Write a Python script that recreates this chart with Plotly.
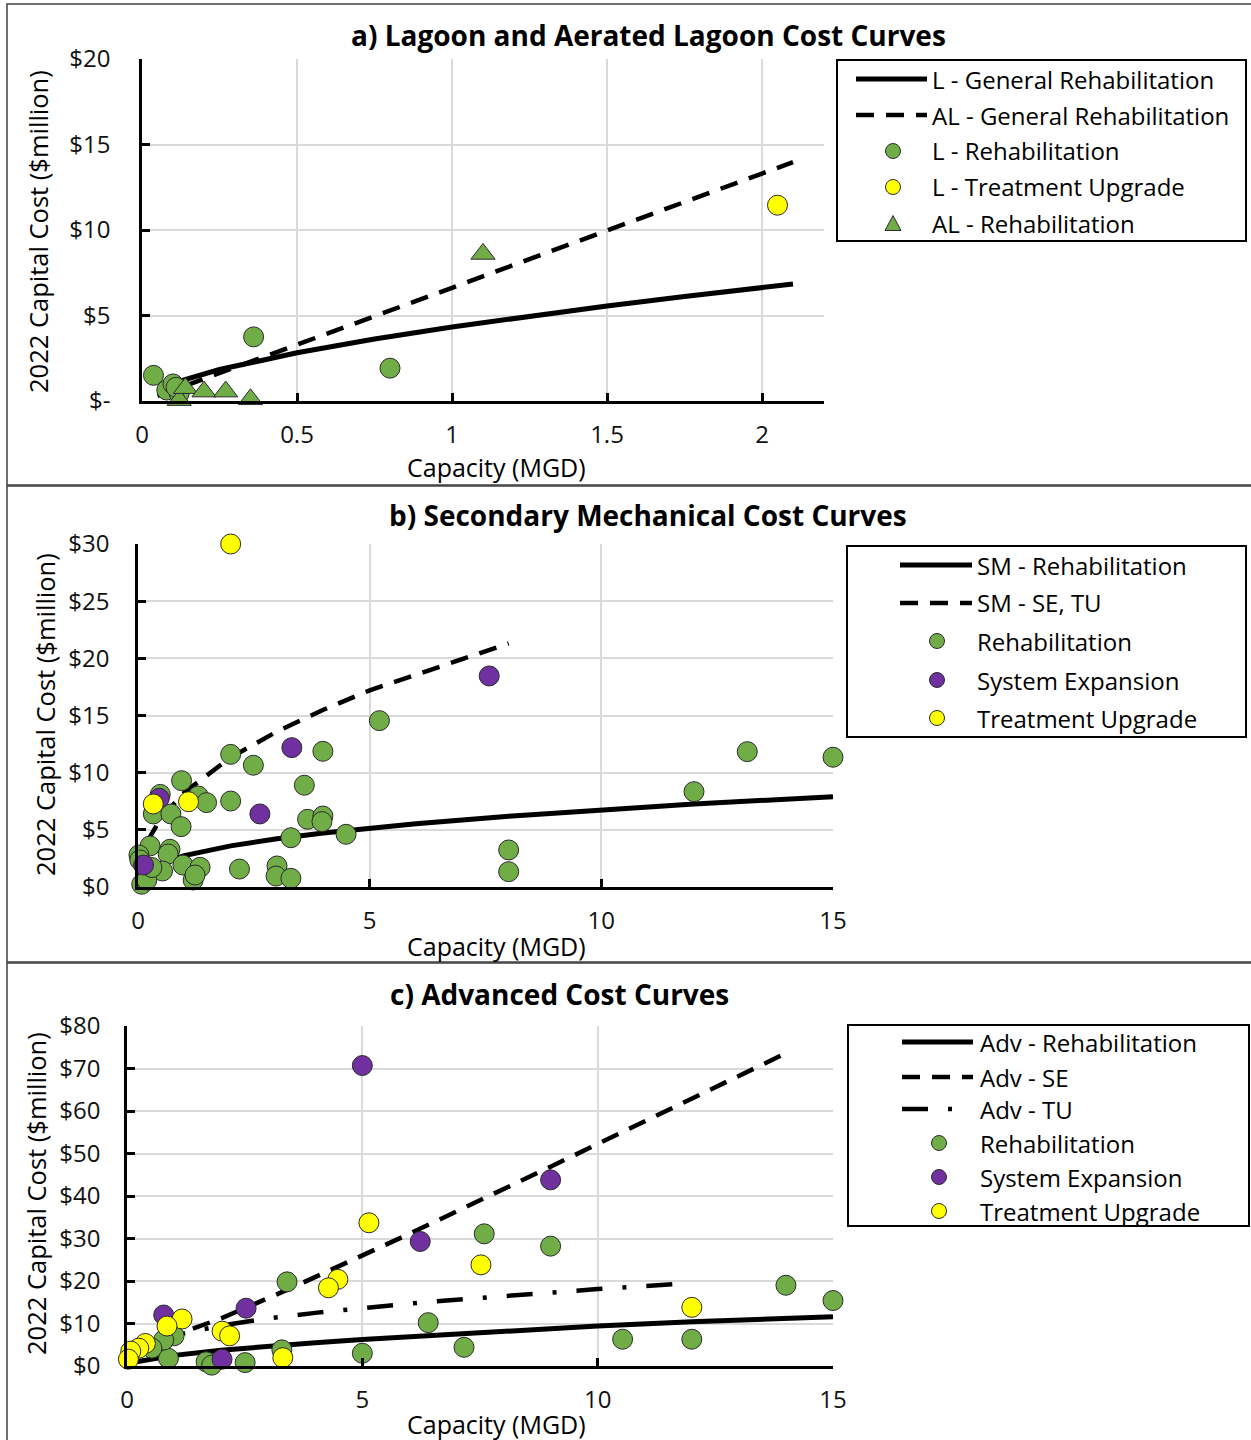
import plotly.graph_objects as go

W, H = 1251, 1440
FONT = "Open Sans"

GREEN = "#70AD47"
PURPLE = "#7030A0"
YELLOW = "#FFFF00"
EDGE = "#2b2b2b"
GRID = "#d9d9d9"

# ---------------- a) Lagoon and aerated lagoon ----------------
a_l_general_x = [0.1, 0.25, 0.5, 0.75, 1.0, 1.25, 1.5, 1.75, 2.0, 2.1]
a_l_general_y = [1.05, 1.84, 2.82, 3.63, 4.33, 4.97, 5.56, 6.11, 6.64, 6.84]
a_al_general_x = [0.05, 0.25, 0.5, 0.75, 1.0, 1.25, 1.5, 1.75, 2.0, 2.1]
a_al_general_y = [0.3, 1.62, 3.3, 4.95, 6.62, 8.3, 9.95, 11.62, 13.3, 13.97]

a_l_rehab_x = [0.037, 0.08, 0.10, 0.12, 0.11, 0.36, 0.80]
a_l_rehab_y = [1.5, 0.64, 1.0, 0.45, 0.8, 3.75, 1.92]
a_l_tu_x = [2.05]
a_l_tu_y = [11.45]
a_al_rehab_x = [0.12, 0.14, 0.20, 0.27, 0.35, 1.10]
a_al_rehab_y = [0.05, 0.75, 0.55, 0.55, 0.1, 8.6]

a_xticks = [0, 0.5, 1, 1.5, 2]
a_xlabels = ["0", "0.5", "1", "1.5", "2"]
a_yticks = [0, 5, 10, 15, 20]
a_ylabels = ["$-", "$5", "$10", "$15", "$20"]

# ---------------- b) Secondary mechanical ----------------
b_rehab_curve_x = [0.5, 1, 2, 3, 4, 5, 6, 8, 10, 12, 15]
b_rehab_curve_y = [2.1, 2.75, 3.6, 4.22, 4.72, 5.15, 5.53, 6.19, 6.75, 7.25, 7.9]
b_setu_curve_x = [0.2, 0.5, 1, 2, 3, 4, 5, 6, 7, 8]
b_setu_curve_y = [3.99, 6.04, 8.27, 11.33, 13.6, 15.5, 17.2, 18.6, 20.0, 21.3]

b_rehab_x = [5.21, 2.0, 2.49, 3.99, 0.94, 3.59, 0.48, 1.30, 1.48, 2.0,
             0.33, 0.71, 0.93, 3.66, 3.99, 3.97, 4.49, 3.30, 0.26, 0.69,
             0.65, 0.02, 0.04, 0.97, 1.34, 0.53, 2.19, 3.0, 2.98, 3.30,
             1.19, 1.23, 0.08, 0.19, 0.30, 13.15, 15.0, 12.0, 8.0, 8.0]
b_rehab_y = [14.55, 11.6, 10.65, 11.87, 9.3, 8.9, 8.1, 7.96, 7.38, 7.52,
             6.39, 6.39, 5.28, 5.92, 6.21, 5.72, 4.61, 4.31, 3.59, 3.3,
             2.89, 2.8, 2.36, 1.92, 1.72, 1.4, 1.57, 1.84, 0.96, 0.76,
             0.61, 1.05, 0.24, 0.61, 1.7, 11.84, 11.35, 8.34, 3.24, 1.34]
b_se_x = [0.46, 3.32, 2.63, 0.12, 7.58]
b_se_y = [7.76, 12.19, 6.39, 1.92, 18.46]
b_tu_x = [2.0, 0.33, 1.09]
b_tu_y = [30.0, 7.26, 7.46]

b_xticks = [0, 5, 10, 15]
b_xlabels = ["0", "5", "10", "15"]
b_yticks = [0, 5, 10, 15, 20, 25, 30]
b_ylabels = ["$0", "$5", "$10", "$15", "$20", "$25", "$30"]

# ---------------- c) Advanced ----------------
c_rehab_curve_x = [0.2, 1, 2, 3, 4, 5, 6, 8, 10, 12, 15]
c_rehab_curve_y = [1.0, 2.5, 3.7, 4.66, 5.49, 6.22, 6.9, 8.12, 9.4, 10.4, 11.6]
c_se_curve_x = [0.8, 1.3, 2, 3.4, 5, 6, 9, 12, 14]
c_se_curve_y = [6.4, 8.5, 11.2, 17.9, 26.0, 31.1, 46.9, 62.8, 73.6]
c_tu_curve_x = [0.7, 1, 2, 3, 4, 5, 6, 7, 8, 9, 10, 11, 12]
c_tu_curve_y = [6.2, 7.2, 9.5, 11.2, 12.5, 13.7, 14.7, 15.6, 16.5, 17.3, 18.1, 18.8, 19.5]

c_rehab_x = [3.40, 7.59, 9.0, 14.0, 15.0, 6.4, 7.16, 10.53, 12.0, 5.0,
             3.29, 2.51, 1.68, 1.8, 0.88, 1.0, 0.78, 0.53]
c_rehab_y = [19.8, 31.1, 28.2, 19.0, 15.4, 10.2, 4.4, 6.3, 6.3, 3.0,
             3.8, 0.8, 1.0, 0.2, 1.8, 7.1, 6.1, 4.2]
c_se_x = [14.0, 5.0, 9.0, 6.23, 2.53, 0.78, 2.02]
c_se_y = [80.4, 70.7, 43.8, 29.3, 13.6, 12.0, 1.6]
c_tu_x = [5.14, 4.48, 4.28, 7.52, 12.0, 1.17, 0.85, 2.02, 2.18, 0.39,
          0.25, 0.08, 0.03, 3.31]
c_tu_y = [33.7, 20.4, 18.4, 23.8, 13.8, 11.06, 9.4, 8.2, 7.1, 5.3,
          4.2, 3.5, 1.6, 1.96]

c_xticks = [0, 5, 10, 15]
c_xlabels = ["0", "5", "10", "15"]
c_yticks = [0, 10, 20, 30, 40, 50, 60, 70, 80]
c_ylabels = ["$0", "$10", "$20", "$30", "$40", "$50", "$60", "$70", "$80"]


def px(x):
    return x / W


def py(y):
    return 1 - y / H


SOLID = dict(color="black", width=5, dash="solid")
DASHED = dict(color="black", width=4.5, dash="18px,12px")
DASHDOT = dict(color="black", width=4.5, dash="26px,20px,4px,20px")

fig = go.Figure()


def add_line(x, y, style, ax):
    fig.add_trace(go.Scatter(x=x, y=y, mode="lines", line=style,
                             xaxis="x" + ax, yaxis="y" + ax,
                             showlegend=False, cliponaxis=False,
                             hoverinfo="skip"))


def add_points(x, y, color, ax, symbol="circle", size=20):
    fig.add_trace(go.Scatter(x=x, y=y, mode="markers",
                             marker=dict(symbol=symbol, size=size, color=color,
                                         line=dict(color=EDGE, width=1)),
                             xaxis="x" + ax, yaxis="y" + ax,
                             showlegend=False, cliponaxis=False))


# panel a
add_line(a_l_general_x, a_l_general_y, SOLID, "")
add_line(a_al_general_x, a_al_general_y, DASHED, "")
add_points(a_l_rehab_x, a_l_rehab_y, GREEN, "")
add_points(a_l_tu_x, a_l_tu_y, YELLOW, "")
add_points(a_al_rehab_x, a_al_rehab_y, GREEN, "", symbol="triangle-up", size=21)

# panel b
add_line(b_rehab_curve_x, b_rehab_curve_y, SOLID, "2")
add_line(b_setu_curve_x, b_setu_curve_y, DASHED, "2")
add_points(b_rehab_x, b_rehab_y, GREEN, "2")
add_points(b_se_x, b_se_y, PURPLE, "2")
add_points(b_tu_x, b_tu_y, YELLOW, "2")

# panel c
add_line(c_rehab_curve_x, c_rehab_curve_y, SOLID, "3")
add_line(c_se_curve_x, c_se_curve_y, DASHED, "3")
add_line(c_tu_curve_x, c_tu_curve_y, DASHDOT, "3")
add_points(c_rehab_x, c_rehab_y, GREEN, "3")
add_points(c_se_x, c_se_y, PURPLE, "3")
add_points(c_tu_x, c_tu_y, YELLOW, "3")

tickfont = dict(family=FONT, size=24, color="#111111")


def axis_style(standoff):
    return dict(showline=True, linecolor="black", linewidth=2.5,
                ticks="inside", ticklen=8, tickwidth=2.5, tickcolor="black",
                showgrid=True, gridcolor=GRID, gridwidth=2, zeroline=False,
                tickfont=tickfont, ticklabelstandoff=standoff,
                automargin=False, fixedrange=True)


def xaxis(left, right, rng, tickvals, ticktext, anchor):
    d = axis_style(10)
    d.update(domain=[px(left), px(right)], range=rng, tickvals=tickvals,
             ticktext=ticktext, anchor=anchor)
    return d


def yaxis(top, bottom, rng, tickvals, ticktext, anchor, standoff):
    d = axis_style(standoff)
    d.update(domain=[py(bottom), py(top)], range=rng, tickvals=tickvals,
             ticktext=ticktext, anchor=anchor)
    return d


shapes = []
annotations = []

# chart frames
for top, bottom in [(4, 485), (486, 962), (963, 1450)]:
    shapes.append(dict(type="rect", xref="paper", yref="paper",
                       x0=px(7), x1=px(1270), y0=py(bottom), y1=py(top),
                       line=dict(color="#404040", width=1.5), layer="below"))


def text(label, x, y, size=24, bold=False, angle=0, anchor="center"):
    annotations.append(dict(text="<b>%s</b>" % label if bold else label,
                            x=px(x), y=py(y), xref="paper", yref="paper",
                            xanchor=anchor, yanchor="middle", showarrow=False,
                            textangle=angle, borderpad=0,
                            font=dict(family=FONT, size=size, color="black")))


# titles
text("a) Lagoon and Aerated Lagoon Cost Curves", 648, 35, size=28, bold=True)
text("b) Secondary Mechanical Cost Curves", 648, 515, size=28, bold=True)
text("c) Advanced Cost Curves", 559, 994, size=28, bold=True)

# axis titles
for yx in (467, 946, 1424):
    text("Capacity (MGD)", 496, yx, size=25)
text("2022 Capital Cost ($million)", 38, 232, size=25.5, angle=-90)
text("2022 Capital Cost ($million)", 45, 715, size=25.5, angle=-90)
text("2022 Capital Cost ($million)", 36, 1194, size=25.5, angle=-90)


def legend(box, rows, span, mx, tx, entries):
    l, t, r, b = box
    shapes.append(dict(type="rect", xref="paper", yref="paper",
                       x0=px(l), x1=px(r), y0=py(b), y1=py(t),
                       line=dict(color="black", width=2), fillcolor="white"))
    for ry, (label, kind, style) in zip(rows, entries):
        if kind == "line":
            end = span[1] if style["dash"] != DASHDOT["dash"] else span[0] + 50
            shapes.append(dict(type="line", xref="paper", yref="paper",
                               x0=px(span[0]), x1=px(end),
                               y0=py(ry), y1=py(ry), line=style))
        elif kind == "circle":
            rad = 7.5
            shapes.append(dict(type="circle", xref="paper", yref="paper",
                               x0=px(mx - rad), x1=px(mx + rad),
                               y0=py(ry + rad), y1=py(ry - rad),
                               fillcolor=style, line=dict(color=EDGE, width=1)))
        else:
            hw, hh = 8, 7.5
            path = "M %f,%f L %f,%f L %f,%f Z" % (
                px(mx - hw), py(ry + hh), px(mx + hw), py(ry + hh),
                px(mx), py(ry - hh))
            shapes.append(dict(type="path", xref="paper", yref="paper",
                               path=path, fillcolor=style,
                               line=dict(color=EDGE, width=1)))
        text(label, tx, ry, anchor="left")


legend((837, 60, 1246, 241), [79, 115, 151, 187, 223], (856, 927), 893, 931,
       [("L - General Rehabilitation", "line", SOLID),
        ("AL - General Rehabilitation", "line", DASHED),
        ("L - Rehabilitation", "circle", GREEN),
        ("L - Treatment Upgrade", "circle", YELLOW),
        ("AL - Rehabilitation", "triangle", GREEN)])

legend((847, 546, 1246, 737), [565, 603, 641, 680, 718], (900, 972), 937, 976,
       [("SM - Rehabilitation", "line", SOLID),
        ("SM - SE, TU", "line", DASHED),
        ("Rehabilitation", "circle", GREEN),
        ("System Expansion", "circle", PURPLE),
        ("Treatment Upgrade", "circle", YELLOW)])

legend((848, 1025, 1249, 1226), [1042, 1077, 1109, 1143, 1177, 1211],
       (902, 973), 939, 979,
       [("Adv - Rehabilitation", "line", SOLID),
        ("Adv - SE", "line", DASHED),
        ("Adv - TU", "line", DASHDOT),
        ("Rehabilitation", "circle", GREEN),
        ("System Expansion", "circle", PURPLE),
        ("Treatment Upgrade", "circle", YELLOW)])

fig.update_layout(
    width=W, height=H,
    autosize=False,
    margin=dict(l=0, r=0, t=0, b=0, pad=0, autoexpand=False),
    paper_bgcolor="white", plot_bgcolor="white",
    showlegend=False,
    xaxis=xaxis(142, 824, [0, 2.2], a_xticks, a_xlabels, "y"),
    yaxis=yaxis(59, 401, [0, 20], a_yticks, a_ylabels, "x", 24),
    xaxis2=xaxis(138, 833, [0, 15], b_xticks, b_xlabels, "y2"),
    yaxis2=yaxis(544, 887, [0, 30], b_yticks, b_ylabels, "x2", 21),
    xaxis3=xaxis(127, 833, [0, 15], c_xticks, c_xlabels, "y3"),
    yaxis3=yaxis(1026, 1366, [0, 80], c_yticks, c_ylabels, "x3", 19),
    shapes=shapes,
    annotations=annotations,
)

fig.write_html("out.html")
